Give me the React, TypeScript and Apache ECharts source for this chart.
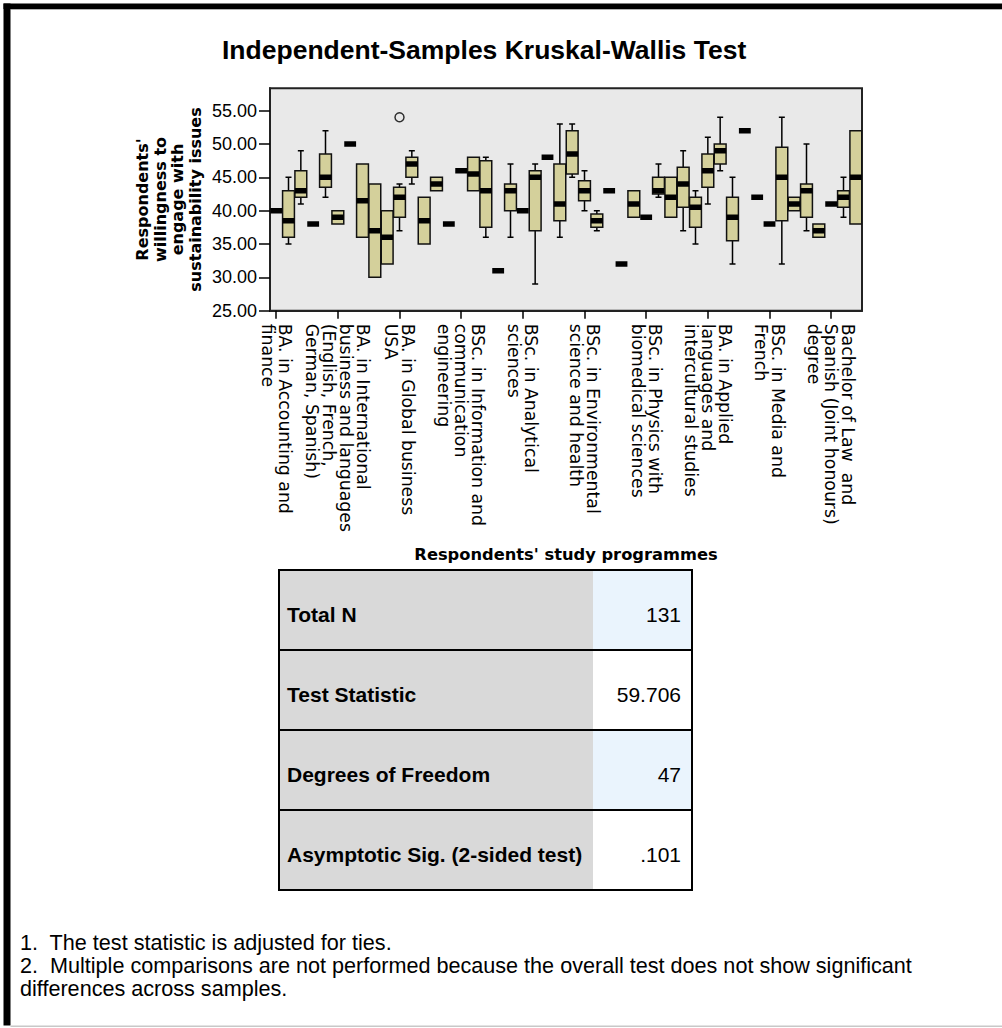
import { useEffect, useRef } from 'react';
import * as echarts from 'echarts';

// ---- Data ----
const categories: string[] = [
  'BA. in Accounting and\nfinance', '', '', '', '',
  'BA. in International\nbusiness and languages\n(English, French,\nGerman, Spanish)', '', '', '', '',
  'BA. in Global business\nUSA', '', '', '', '',
  'BSc. in Information and\ncommunication\nengineering', '', '', '', '',
  'BSc. in Analytical\nsciences', '', '', '', '',
  'BSc. in Environmental\nscience and health', '', '', '', '',
  'BSc. in Physics with\nbiomedical sciences', '', '', '', '',
  'BA. in Applied\nlanguages and\nintercultural studies', '', '', '', '',
  'BSc. in Media and\nFrench', '', '', '', '',
  'Bachelor of Law  and\nSpanish (Joint honours)\ndegree', '', '',
];

const mins: number[] = [
  40, 35, 41, 38, 42, 38, 50, 36, 30, 32,
  37, 44, 35, 43, 38, 46, 43, 36, 31, 36,
  40, 29, 48, 36, 45, 40, 37, 43, 32, 39,
  39, 42, 39, 37, 35, 41, 46, 32, 52, 42,
  38, 32, 40, 37, 36, 41, 39, 38,
];
const q1s: number[] = [
  40, 36, 42, 38, 43.5, 38, 50, 36, 30, 32,
  39, 45, 35, 43, 38, 46, 43, 37.5, 31, 40,
  40, 37, 48, 38.5, 45.5, 41.5, 37.5, 43, 32, 39,
  39, 42.5, 39, 40.5, 37.5, 43.5, 47, 35.5, 52, 42,
  38, 38.5, 40, 39, 36, 41, 40.5, 38,
];
const medians: number[] = [
  40, 38.5, 43, 38, 45, 39, 50, 41.5, 37, 36,
  42, 47, 38.5, 44, 38, 46, 45.5, 43, 31, 43,
  40, 45, 48, 41, 48.5, 43, 38.5, 43, 32, 41,
  39, 43, 42, 44, 40.5, 46, 49, 39, 52, 42,
  38, 45, 41, 43, 37, 41, 42, 45,
];
const q3s: number[] = [
  40, 43, 46, 38, 48.5, 40, 50, 47, 44, 40,
  43.5, 48, 42, 45, 38, 46, 48, 47.5, 31, 44,
  40, 46, 48, 47, 52, 44.5, 39.5, 43, 32, 43,
  39, 45, 45, 46.5, 42, 48.5, 50, 42, 52, 42,
  38, 49.5, 42, 44, 38, 41, 43, 52,
];
const maxs: number[] = [
  40, 45, 49, 38, 52, 40, 50, 47, 44, 40,
  44, 49, 42, 45, 38, 46, 48, 48, 31, 47,
  40, 47, 48, 53, 53, 46, 40, 43, 32, 43,
  39, 47, 45, 49, 43, 51, 54, 45, 52, 42,
  38, 54, 42, 50, 38, 41, 45, 52,
];
const outlierIndex: number[] = [10];
const outlierValue: number[] = [54];

const yTickValues: number[] = [25, 30, 35, 40, 45, 50, 55];

const chartTitle = 'Independent-Samples Kruskal-Wallis Test';
const yAxisTitle = "Respondents'\nwillingness to\nengage with\nsustainability issues";
const xAxisTitle = "Respondents' study programmes";

const tableLabels: string[] = ['Total N', 'Test Statistic', 'Degrees of Freedom', 'Asymptotic Sig. (2-sided test)'];
const tableValues: string[] = ['131', '59.706', '47', '.101'];

const footnotes: string[] = [
  '1.  The test statistic is adjusted for ties.',
  '2.  Multiple comparisons are not performed because the overall test does not show significant',
  'differences across samples.',
];

export default function App() {
  const ref = useRef<HTMLDivElement>(null);

  useEffect(() => {
    if (!ref.current) return;
    const chart = echarts.init(ref.current, undefined, { renderer: 'svg' });

    const boxData = categories.map((_, i) => [i, mins[i], q1s[i], medians[i], q3s[i], maxs[i]]);
    const outlierData = outlierIndex.map((c, k) => [c, outlierValue[k]]);

    const graphics: any[] = [];
    // frame
    graphics.push({ type: 'rect', shape: { x: 3.5, y: 3.5, width: 999, height: 5.5 }, style: { fill: '#000' }, silent: true });
    graphics.push({ type: 'rect', shape: { x: 10.5, y: 9, width: 992, height: 1 }, style: { fill: '#b0b0b0' }, silent: true });
    graphics.push({ type: 'rect', shape: { x: 3.5, y: 3.5, width: 7, height: 1022 }, style: { fill: '#000' }, silent: true });
    graphics.push({ type: 'rect', shape: { x: 10.5, y: 1025.5, width: 992, height: 1.5 }, style: { fill: '#c8c8c8' }, silent: true });

    // table
    const tX = 279, tY = 570, rowH = 80, leftW = 314, rightW = 99;
    tableLabels.forEach((lab, i) => {
      const y = tY + rowH * i;
      graphics.push({ type: 'rect', shape: { x: tX, y, width: leftW, height: rowH }, style: { fill: '#d9d9d9' }, silent: true });
      graphics.push({ type: 'rect', shape: { x: tX + leftW, y, width: rightW, height: rowH }, style: { fill: i % 2 === 0 ? '#eaf4fd' : '#ffffff' }, silent: true });
      graphics.push({
        type: 'text', x: 287, y: y + rowH / 2 + 4,
        style: { text: lab, fill: '#000', font: 'bold 21px "Liberation Sans", Arial, sans-serif', textAlign: 'left', textVerticalAlign: 'middle' },
        silent: true,
      });
      graphics.push({
        type: 'text', x: 681, y: y + rowH / 2 + 4,
        style: { text: tableValues[i], fill: '#000', font: '21px "Liberation Sans", Arial, sans-serif', textAlign: 'right', textVerticalAlign: 'middle' },
        silent: true,
      });
      if (i > 0) {
        graphics.push({ type: 'line', shape: { x1: tX, y1: y, x2: tX + leftW + rightW, y2: y }, style: { stroke: '#000', lineWidth: 2 }, silent: true });
      }
    });
    graphics.push({ type: 'rect', shape: { x: tX, y: tY, width: leftW + rightW, height: rowH * 4 }, style: { fill: 'none', stroke: '#000', lineWidth: 2 }, silent: true });

    // footnotes
    footnotes.forEach((t, i) => {
      graphics.push({
        type: 'text', x: 20, y: 942 + 23 * i,
        style: { text: t, fill: '#000', font: '21.6px "Liberation Sans", Arial, sans-serif', textAlign: 'left', textVerticalAlign: 'middle' },
        silent: true,
      });
    });

    chart.setOption({
      animation: false,
      backgroundColor: '#ffffff',
      title: {
        text: chartTitle,
        left: 217,
        top: 31,
        textStyle: { fontFamily: '"Liberation Sans", Arial, sans-serif', fontWeight: 'bold', fontSize: 26.5, color: '#000' },
      },
      grid: {
        left: 270, right: 140, top: 88.3, bottom: 717.3,
        show: true, backgroundColor: '#e9e9e9', borderColor: '#222', borderWidth: 2,
        containLabel: false,
      },
      xAxis: {
        type: 'category',
        data: categories,
        boundaryGap: true,
        name: xAxisTitle,
        nameLocation: 'middle',
        nameGap: 236,
        nameMoveOverlap: false,
        nameTextStyle: { fontFamily: '"DejaVu Sans", sans-serif', fontWeight: 'bold', fontSize: 16.3, color: '#000' },
        axisLine: { show: true, lineStyle: { color: '#222', width: 2 } },
        axisTick: { show: true, interval: 4, alignWithLabel: true, length: 8, lineStyle: { color: '#000', width: 1.5 } },
        axisLabel: {
          interval: 4, rotate: -90, margin: 13,
          fontFamily: '"DejaVu Sans", sans-serif', fontSize: 17.3, lineHeight: 17, color: '#000',
        },
        splitLine: { show: false },
      },
      yAxis: {
        type: 'value',
        min: 25,
        max: 58.35,
        name: yAxisTitle,
        nameLocation: 'middle',
        nameRotate: 90,
        nameGap: 66,
        nameMoveOverlap: false,
        nameTextStyle: { fontFamily: '"DejaVu Sans", sans-serif', fontWeight: 'bold', fontSize: 16, lineHeight: 17.5, color: '#000', align: 'center' },
        axisLine: { show: true, lineStyle: { color: '#222', width: 2 } },
        axisTick: { show: true, length: 11, customValues: yTickValues, lineStyle: { color: '#000', width: 1.5 } },
        axisLabel: {
          customValues: yTickValues, margin: 13,
          formatter: (v: number) => v.toFixed(2),
          fontFamily: '"Liberation Sans", Arial, sans-serif', fontSize: 18, color: '#000',
        },
        splitLine: { show: false },
      },
      series: [
        {
          type: 'custom',
          data: boxData,
          encode: { x: 0, y: [1, 2, 3, 4, 5] },
          clip: true,
          renderItem: (params: any, api: any) => {
            const idx = params.dataIndex;
            const band = api.size([1, 0])[0];
            const bw = band * 0.96;
            const cx = api.coord([idx, api.value(3)])[0];
            const yMin = api.coord([idx, api.value(1)])[1];
            const yQ1 = api.coord([idx, api.value(2)])[1];
            const yMed = api.coord([idx, api.value(3)])[1];
            const yQ3 = api.coord([idx, api.value(4)])[1];
            const yMax = api.coord([idx, api.value(5)])[1];
            const ls = { stroke: '#000', lineWidth: 1.5, fill: null };
            const capHalf = 3;
            const children: any[] = [];
            if (yQ3 - yMax > 0.5) {
              children.push({ type: 'line', shape: { x1: cx, y1: yQ3, x2: cx, y2: yMax }, style: ls });
              children.push({ type: 'line', shape: { x1: cx - capHalf, y1: yMax, x2: cx + capHalf, y2: yMax }, style: ls });
            }
            if (yMin - yQ1 > 0.5) {
              children.push({ type: 'line', shape: { x1: cx, y1: yQ1, x2: cx, y2: yMin }, style: ls });
              children.push({ type: 'line', shape: { x1: cx - capHalf, y1: yMin, x2: cx + capHalf, y2: yMin }, style: ls });
            }
            if (yQ1 - yQ3 > 0.5) {
              children.push({
                type: 'rect',
                shape: { x: cx - bw / 2, y: yQ3, width: bw, height: yQ1 - yQ3 },
                style: { fill: '#d4d09b', stroke: '#111', lineWidth: 1.5 },
              });
            }
            children.push({
              type: 'rect',
              shape: { x: cx - bw / 2, y: yMed - 2.75, width: bw, height: 5.5 },
              style: { fill: '#000' },
            });
            return { type: 'group', children };
          },
          z: 2,
        },
        {
          type: 'scatter',
          data: outlierData,
          symbol: 'circle',
          symbolSize: 9,
          itemStyle: { color: 'rgba(0,0,0,0)', borderColor: '#000', borderWidth: 1.5 },
          z: 3,
        },
      ],
      graphic: graphics,
    });

    return () => {
      chart.dispose();
    };
  }, []);

  return (
    <div
      ref={ref}
      style={{ position: 'absolute', left: 0, top: 0, width: 1002, height: 1028, background: '#fff' }}
    />
  );
}
